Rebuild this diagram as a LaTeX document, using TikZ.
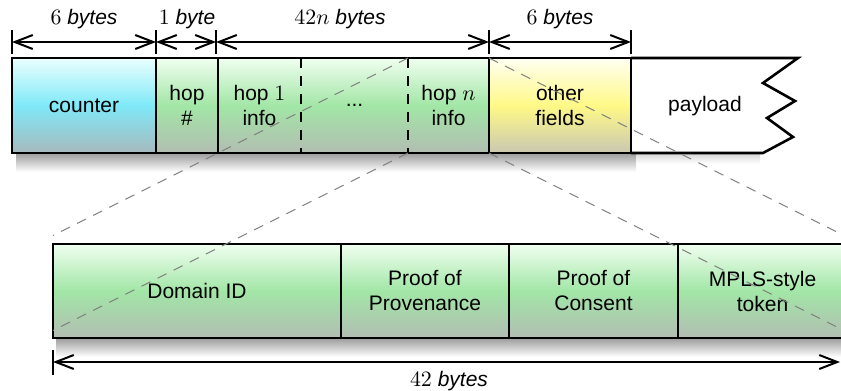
\documentclass[tikz,border=0pt]{standalone}
\usepackage{fontspec}
\setmainfont{Liberation Sans}
\usepackage{tikz}
\usetikzlibrary{arrows.meta}

\definecolor{cyanmid}{HTML}{7FE9F8}
\definecolor{cyanbot}{HTML}{A6B9BD}
\definecolor{greenmid}{HTML}{A2E6A6}
\definecolor{greenbot}{HTML}{B2BDB2}
\definecolor{yellowmid}{HTML}{FFF986}
\definecolor{yellowbot}{HTML}{C9C8B1}

\tikzset{
    field/.style={anchor=north west,inner sep=0pt,outer sep=0pt,align=center,
        minimum height=47.5pt,font=\fontsize{10.5}{12.5}\selectfont},
    boxline/.style={line width=1.3pt},
    cyanfill/.style={top color=cyan!8,bottom color=cyanbot,middle color=cyanmid},
    greenfill/.style={top color=green!6,bottom color=greenbot,middle color=greenmid},
    yellowfill/.style={top color=yellow!5,bottom color=yellowbot,middle color=yellowmid},
    sepline/.style={line width=0.8pt,dash pattern=on 5pt off 4pt},
    proj/.style={gray,line width=0.5pt,dash pattern=on 5pt off 4pt},
    dimline/.style={line width=1pt,{Straight Barb[length=9pt,width=7pt]}-{Straight Barb[length=9pt,width=7pt]}},
    ticks/.style={line width=1pt},
    dimlabel/.style={font=\fontsize{10.5}{12.5}\selectfont},
    shadowband/.style={top color=black!45,bottom color=white}
}

\begin{document}
\begin{tikzpicture}[x=0.5pt,y=-0.5pt]
    \useasboundingbox (0,0) rectangle (841,391);

    % Shadows under both rows
    \shade[shadowband] (16,150) rectangle (636,172);
    \shade[top color=black!20,bottom color=white] (636,150) rectangle (760,164);
    \shade[shadowband] (56,335) rectangle (847,357);

    % Top row of fields
    \node[field,cyanfill,boxline,draw,minimum width=72pt] (counter) at (12,58) {counter};
    \node[field,greenfill,boxline,draw,minimum width=31pt] (hopnum) at (156,58) {hop\\\#};
    \node[field,greenfill,minimum width=41.5pt] (hop1) at (218,58) {hop $1$\\info};
    \node[field,greenfill,minimum width=53.5pt] (dots) at (301,58) {...};
    \node[field,greenfill,minimum width=40.5pt] (hopn) at (408,58) {hop $n$\\info};
    \node[field,yellowfill,boxline,draw,minimum width=71pt] (other) at (489,58) {other\\fields};

    % Hop info block: outer frame and dashed separators
    \draw[boxline] (hop1.north west) rectangle (hopn.south east);
    \draw[sepline] (hop1.north east) -- (hop1.south east);
    \draw[sepline] (hopn.north west) -- (hopn.south west);

    % Payload with torn edge
    \fill[white] (631,58) -- (798,58) -- (763,83) -- (795,101) -- (767,118)
        -- (793,137) -- (763,153) -- (631,153) -- cycle;
    \draw[boxline,line join=miter] (631,58) -- (798,58) -- (763,83) -- (795,101) -- (767,118)
        -- (793,137) -- (763,153) -- (631,153);
    \node[dimlabel] (payload) at (705,106) {payload};
    \draw[boxline] (other.north east) -- (other.south east);

    % Bottom row: expanded hop info
    \node[field,greenfill,boxline,draw,minimum height=47pt,minimum width=144pt] (domain) at (53,244) {Domain ID};
    \node[field,greenfill,boxline,draw,minimum height=47pt,minimum width=84pt] (prov) at (341,244) {Proof of\\Provenance};
    \node[field,greenfill,boxline,draw,minimum height=47pt,minimum width=84.5pt] (consent) at (509,244) {Proof of\\Consent};
    \node[field,greenfill,boxline,draw,minimum height=47pt,minimum width=84.5pt] (mpls) at (678,244) {MPLS-style\\token};

    % Projection lines from hop n info
    \coordinate (pnw) at (53,235.5);
    \coordinate (psw) at (53,330.5);
    \coordinate (pne) at (847,237);
    \coordinate (pse) at (847,332);
    \draw[proj] (hopn.north west) -- (pnw);
    \draw[proj] (hopn.south west) -- (psw);
    \draw[proj] (hopn.north east) -- (pne);
    \draw[proj] (hopn.south east) -- (pse);

    % Size markers on top
    \coordinate (t0) at (12,42);
    \coordinate (t1) at (156,42);
    \coordinate (t2) at (216,42);
    \coordinate (t3) at (489,42);
    \coordinate (t4) at (631,42);
    \foreach \t in {t0,t1,t2,t3,t4} {
        \draw[ticks] (\t) ++(0,-12) -- ++(0,24);
    }
    \draw[dimline] (t0) -- (t1);
    \draw[dimline] (t1) -- (t2);
    \draw[dimline] (t2) -- (t3);
    \draw[dimline] (t3) -- (t4);
    \node[dimlabel] (l0) at (84,19) {$6$ \textit{bytes}};
    \node[dimlabel] (l1) at (187,19) {$1$ \textit{byte}};
    \node[dimlabel] (l2) at (340,19) {$42n$ \textit{bytes}};
    \node[dimlabel] (l3) at (560,19) {$6$ \textit{bytes}};

    % Size marker below
    \coordinate (b0) at (53,362);
    \coordinate (b1) at (840,362);
    \draw[ticks] (b0) ++(0,-12) -- ++(0,25);
    \draw[dimline] (b0) -- (b1);
    \node[dimlabel] (lb) at (449,381) {$42$ \textit{bytes}};
\end{tikzpicture}
\end{document}
